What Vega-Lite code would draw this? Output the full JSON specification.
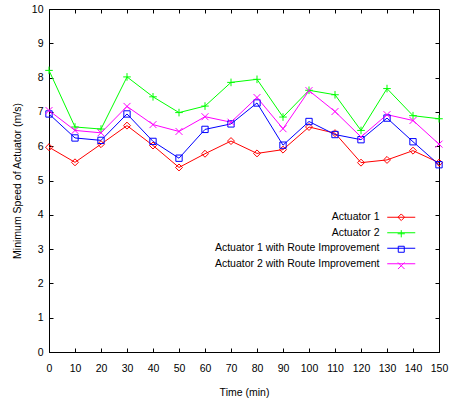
{
  "$schema": "https://vega.github.io/schema/vega-lite/v6.json",
  "autosize": "none",
  "width": 390,
  "height": 343,
  "padding": {"left": 49, "top": 9, "right": 15, "bottom": 50},
  "background": "white",
  "config": {
    "font": "Liberation Sans",
    "view": {"stroke": "black", "strokeWidth": 1},
    "axis": {"grid": false, "domainColor": "black", "tickColor": "black", "labelColor": "black", "titleColor": "black", "labelFont": "Liberation Sans", "titleFont": "Liberation Sans", "labelFontSize": 10.5, "titleFontSize": 10.5, "titleFontWeight": "normal"},
    "legend": {"labelFont": "Liberation Sans", "labelFontSize": 10.5, "labelColor": "black", "labelLimit": 400}
  },
  "data": {"values": [
    {"t":0,"series":"Actuator 1","v":5.97},{"t":10,"series":"Actuator 1","v":5.53},{"t":20,"series":"Actuator 1","v":6.06},{"t":30,"series":"Actuator 1","v":6.60},{"t":40,"series":"Actuator 1","v":6.02},{"t":50,"series":"Actuator 1","v":5.38},{"t":60,"series":"Actuator 1","v":5.78},{"t":70,"series":"Actuator 1","v":6.15},{"t":80,"series":"Actuator 1","v":5.79},{"t":90,"series":"Actuator 1","v":5.90},{"t":100,"series":"Actuator 1","v":6.56},{"t":110,"series":"Actuator 1","v":6.38},{"t":120,"series":"Actuator 1","v":5.52},{"t":130,"series":"Actuator 1","v":5.60},{"t":140,"series":"Actuator 1","v":5.87},{"t":150,"series":"Actuator 1","v":5.52},
    {"t":0,"series":"Actuator 2","v":8.21},{"t":10,"series":"Actuator 2","v":6.56},{"t":20,"series":"Actuator 2","v":6.50},{"t":30,"series":"Actuator 2","v":8.02},{"t":40,"series":"Actuator 2","v":7.44},{"t":50,"series":"Actuator 2","v":6.98},{"t":60,"series":"Actuator 2","v":7.17},{"t":70,"series":"Actuator 2","v":7.86},{"t":80,"series":"Actuator 2","v":7.95},{"t":90,"series":"Actuator 2","v":6.85},{"t":100,"series":"Actuator 2","v":7.63},{"t":110,"series":"Actuator 2","v":7.50},{"t":120,"series":"Actuator 2","v":6.46},{"t":130,"series":"Actuator 2","v":7.68},{"t":140,"series":"Actuator 2","v":6.89},{"t":150,"series":"Actuator 2","v":6.80},
    {"t":0,"series":"Actuator 1 with Route Improvement","v":6.94},{"t":10,"series":"Actuator 1 with Route Improvement","v":6.24},{"t":20,"series":"Actuator 1 with Route Improvement","v":6.17},{"t":30,"series":"Actuator 1 with Route Improvement","v":6.94},{"t":40,"series":"Actuator 1 with Route Improvement","v":6.14},{"t":50,"series":"Actuator 1 with Route Improvement","v":5.65},{"t":60,"series":"Actuator 1 with Route Improvement","v":6.49},{"t":70,"series":"Actuator 1 with Route Improvement","v":6.65},{"t":80,"series":"Actuator 1 with Route Improvement","v":7.26},{"t":90,"series":"Actuator 1 with Route Improvement","v":6.03},{"t":100,"series":"Actuator 1 with Route Improvement","v":6.72},{"t":110,"series":"Actuator 1 with Route Improvement","v":6.34},{"t":120,"series":"Actuator 1 with Route Improvement","v":6.19},{"t":130,"series":"Actuator 1 with Route Improvement","v":6.82},{"t":140,"series":"Actuator 1 with Route Improvement","v":6.13},{"t":150,"series":"Actuator 1 with Route Improvement","v":5.46},
    {"t":0,"series":"Actuator 2 with Route Improvement","v":7.04},{"t":10,"series":"Actuator 2 with Route Improvement","v":6.46},{"t":20,"series":"Actuator 2 with Route Improvement","v":6.39},{"t":30,"series":"Actuator 2 with Route Improvement","v":7.16},{"t":40,"series":"Actuator 2 with Route Improvement","v":6.63},{"t":50,"series":"Actuator 2 with Route Improvement","v":6.43},{"t":60,"series":"Actuator 2 with Route Improvement","v":6.86},{"t":70,"series":"Actuator 2 with Route Improvement","v":6.70},{"t":80,"series":"Actuator 2 with Route Improvement","v":7.42},{"t":90,"series":"Actuator 2 with Route Improvement","v":6.51},{"t":100,"series":"Actuator 2 with Route Improvement","v":7.62},{"t":110,"series":"Actuator 2 with Route Improvement","v":7.01},{"t":120,"series":"Actuator 2 with Route Improvement","v":6.27},{"t":130,"series":"Actuator 2 with Route Improvement","v":6.92},{"t":140,"series":"Actuator 2 with Route Improvement","v":6.75},{"t":150,"series":"Actuator 2 with Route Improvement","v":6.06}
  ]},
  "layer": [
    {
      "mark": {"type": "line", "strokeWidth": 1},
      "encoding": {
        "x": {"field": "t", "type": "quantitative", "scale": {"domain": [0, 150], "nice": false}, "axis": {"orient": "bottom", "values": [0,10,20,30,40,50,60,70,80,90,100,110,120,130,140,150], "tickSize": -4, "labelPadding": 15, "title": "Time (min)", "titlePadding": 14, "labelFlush": false}},
        "y": {"field": "v", "type": "quantitative", "scale": {"domain": [0, 10], "nice": false}, "axis": {"orient": "left", "values": [0,1,2,3,4,5,6,7,8,9,10], "tickSize": -4, "labelPadding": 10, "title": "Minimum Speed of Actuator (m/s)", "titlePadding": 9, "labelFlush": false}},
        "stroke": {"field": "series", "type": "nominal", "title": null, "sort": null,
          "scale": {"range": ["#ff0000", "#00ff00", "#0000ff", "#ff00ff"]},
          "legend": {"orient": "none", "legendX": 347, "legendY": 203, "direction": "vertical", "labelAlign": "right", "labelOffset": -27, "symbolType": "M-4.667,0L4.667,0", "symbolSize": 36, "symbolStrokeWidth": 1, "rowPadding": 4.5, "padding": 0}
        }
      }
    },
    {
      "mark": {"type": "point", "filled": false, "strokeWidth": 1, "size": 40, "opacity": 1},
      "encoding": {
        "x": {"field": "t", "type": "quantitative", "axis": {"orient": "top", "values": [10,20,30,40,50,60,70,80,90,100,110,120,130,140], "tickSize": -4, "labels": false, "title": null, "domain": false}},
        "y": {"field": "v", "type": "quantitative", "axis": {"orient": "right", "values": [1,2,3,4,5,6,7,8,9], "tickSize": -4, "labels": false, "title": null, "domain": false}},
        "color": {"field": "series", "type": "nominal", "title": null,
          "scale": {"domain": ["Actuator 1", "Actuator 2", "Actuator 1 with Route Improvement", "Actuator 2 with Route Improvement"], "range": ["#ff0000", "#00ff00", "#0000ff", "#ff00ff"]},
          "legend": {"orient": "none", "legendX": 347, "legendY": 203, "direction": "vertical", "labelExpr": "''", "symbolSize": 36, "symbolStrokeWidth": 1, "rowPadding": 4.5, "padding": 0}},
        "shape": {"field": "series", "type": "nominal", "title": null,
          "scale": {"domain": ["Actuator 1", "Actuator 2", "Actuator 1 with Route Improvement", "Actuator 2 with Route Improvement"], "range": ["M0,-1.1L1.1,0L0,1.1L-1.1,0Z", "M-1.2,0L1.2,0M0,-1.2L0,1.2", "M-1,-1L1,-1L1,1L-1,1Z", "M-1.1,-1.1L1.1,1.1M-1.1,1.1L1.1,-1.1"]},
          "legend": {"orient": "none", "legendX": 347, "legendY": 203, "direction": "vertical", "labelExpr": "''", "symbolSize": 36, "symbolStrokeWidth": 1, "rowPadding": 4.5, "padding": 0}}
      }
    }
  ],
  "resolve": {"axis": {"x": "independent", "y": "independent"}}
}
